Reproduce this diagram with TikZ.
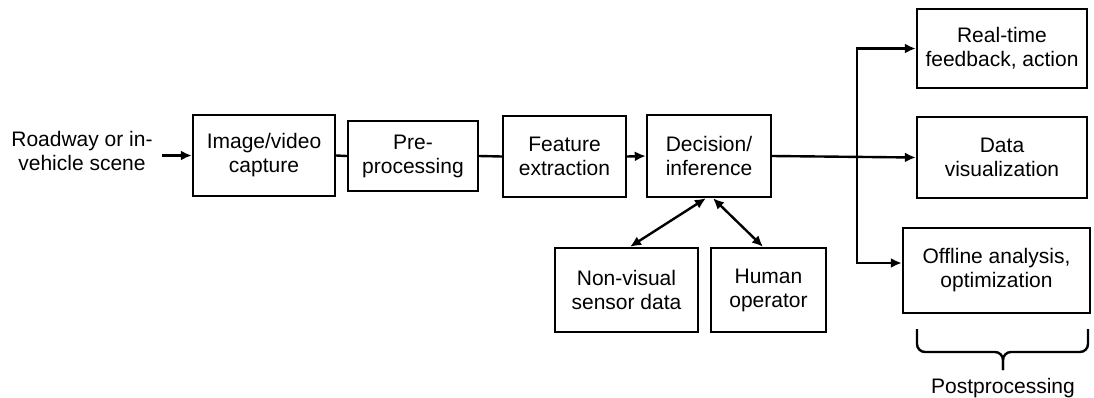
\documentclass[tikz,border=0pt]{standalone}
\usepackage{fontspec}
\setmainfont{Liberation Sans}
\usetikzlibrary{arrows.meta}
\tikzset{
  txt/.style={align=center, font=\fontsize{10.5}{12}\selectfont},
  blk/.style={txt, draw, line width=1.2pt, inner sep=0pt},
  arr/.style={line width=1.2pt, -{Latex[length=5.5pt,width=5pt]}},
  dblarr/.style={line width=1.2pt, {Latex[length=5.5pt,width=5pt]}-{Latex[length=5.5pt,width=5pt]}},
}
\begin{document}
\begin{tikzpicture}[x=0.5pt,y=-0.5pt]
  \useasboundingbox (0,0) rectangle (1094,397);
  % main chain
  \node[txt, inner xsep=4.5pt] (scene) at (82,151) {Roadway or in-\\vehicle scene};
  \node[blk, minimum width=71pt, minimum height=40.5pt] (capture) at (264,155.5) {Image/video\\capture};
  \node[blk, minimum width=65pt, minimum height=35pt] (prep) at (413,156) {Pre-\\processing};
  \node[blk, minimum width=61.5pt, minimum height=40.5pt] (feat) at (564.5,156.5) {Feature\\extraction};
  \node[blk, minimum width=62pt, minimum height=41pt] (decide) at (709,156) {Decision/\\inference};
  % side inputs
  \node[blk, minimum width=71.5pt, minimum height=42pt] (sensor) at (626.5,290) {Non-visual\\sensor data};
  \node[blk, minimum width=57.5pt, minimum height=42pt] (human) at (768.5,290) {Human\\operator};
  % outputs
  \node[blk, minimum width=85pt, minimum height=39.5pt] (feedback) at (1002,48.5) {Real-time\\feedback, action};
  \node[blk, minimum width=85pt, minimum height=40.5pt] (visual) at (1002,157.5) {Data\\visualization};
  \node[blk, minimum width=93.5pt, minimum height=42.5pt] (offline) at (996.5,270.5) {Offline analysis,\\optimization};
  \coordinate (split) at (857,263);

  \draw[arr] (scene.east |- capture.west) -- (capture.west);
  \draw[line width=1.2pt] (capture.east) -- (prep.west);
  \draw[line width=1.2pt] (prep.east) -- (feat.west);
  \draw[arr] (feat.east) -- (decide.west);
  \draw[arr] (decide.east) -- (visual.west);
  \draw[dblarr] (feedback.west) -| (split) -- (offline.west |- split);
  \draw[dblarr] ([xshift=-1.5pt]decide.south) -- ([xshift=1.75pt]sensor.north);
  \draw[dblarr] ([xshift=2pt]decide.south) -- ([xshift=-2.75pt]human.north);

  % brace under the outputs
  \draw[line width=1.2pt, rounded corners=4pt] (917,329) -- (917,352) -- (1003,352) -- (1003,370);
  \draw[line width=1.2pt, rounded corners=4pt] (1088,329) -- (1088,352) -- (1003,352) -- (1003,370);
  \node[txt, anchor=base, inner sep=0pt] (post) at (1003,393) {Postprocessing};
\end{tikzpicture}
\end{document}
